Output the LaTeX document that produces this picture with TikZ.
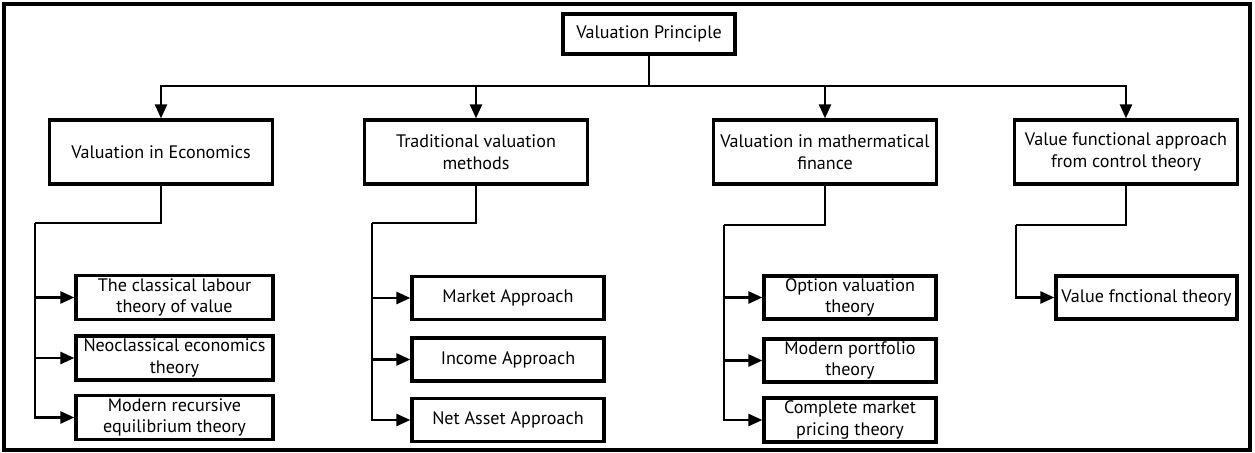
\documentclass[tikz,border=0pt]{standalone}
\usepackage{fontspec}
\setmainfont{PT Sans}
\usetikzlibrary{arrows.meta}
\tikzset{
  box/.style={draw, line width=1.9pt, align=center, inner sep=0pt,
    font=\fontsize{10.3}{12.2}\selectfont},
  topbox/.style={box, minimum width=4.46cm, minimum height=1.28cm},
  link/.style={line width=1.5pt},
  arr/.style={link, -{Triangle[length=0.28cm, width=0.24cm]}}
}
\begin{document}
\begin{tikzpicture}[x=0.02cm, y=-0.02cm]
\useasboundingbox (0,0) rectangle (1255,453);
\draw[line width=2pt] (4,4) rectangle (1250,450);

% root and first level
\node[box, minimum width=3.44cm, minimum height=0.8cm] (root) at (649,34) {Valuation Principle};
\node[topbox] (econ) at (161,152) {Valuation in Economics};
\node[topbox] (trad) at (476,152) {Traditional valuation\\methods};
\node[topbox] (math) at (825,152) {Valuation in mathermatical\\finance};
\node[topbox] (ctrl) at (1126,152) {Value functional approach\\from control theory};

% second level
\node[box, minimum width=3.94cm, minimum height=0.88cm] (econa) at (174.5,297.5) {The classical labour\\theory of value};
\node[box, minimum width=3.94cm, minimum height=0.88cm] (econb) at (174.5,358) {Neoclassical economics\\theory};
\node[box, minimum width=3.94cm, minimum height=0.88cm] (econc) at (174.5,417.5) {Modern recursive\\equilibrium theory};

\node[box, minimum width=3.84cm, minimum height=0.86cm] (trada) at (508,298) {Market Approach};
\node[box, minimum width=3.84cm, minimum height=0.86cm] (tradb) at (508,359.5) {Income Approach};
\node[box, minimum width=3.84cm, minimum height=0.86cm] (tradc) at (508,420) {Net Asset Approach};

\node[box, minimum width=3.44cm, minimum height=0.86cm] (matha) at (850,297.5) {Option valuation\\theory};
\node[box, minimum width=3.44cm, minimum height=0.86cm] (mathb) at (850,360.5) {Modern portfolio\\theory};
\node[box, minimum width=3.44cm, minimum height=0.88cm] (mathc) at (850,420) {Complete market\\pricing theory};

\node[box, minimum width=3.62cm, minimum height=0.86cm] (ctrla) at (1146.5,297.5) {Value fnctional theory};

% connectors
\coordinate (bus) at (649,86);
\draw[link] (root.south) -- (bus);
\foreach \n in {econ,trad,math,ctrl}
  \draw[arr] (bus) -| (\n.north);

\coordinate (econbus) at (35,223);
\coordinate (tradbus) at (372,223);
\coordinate (mathbus) at (724,225);
\coordinate (ctrlbus) at (1016,225);
\draw[link] (econ.south) |- (econbus);
\draw[link] (trad.south) |- (tradbus);
\draw[link] (math.south) |- (mathbus);
\draw[link] (ctrl.south) |- (ctrlbus);

\foreach \n in {econ,trad,math}
  \foreach \s in {a,b,c}
    \draw[arr] (\n bus) |- (\n\s.west);
\draw[arr] (ctrlbus) |- (ctrla.west);
\end{tikzpicture}
\end{document}
